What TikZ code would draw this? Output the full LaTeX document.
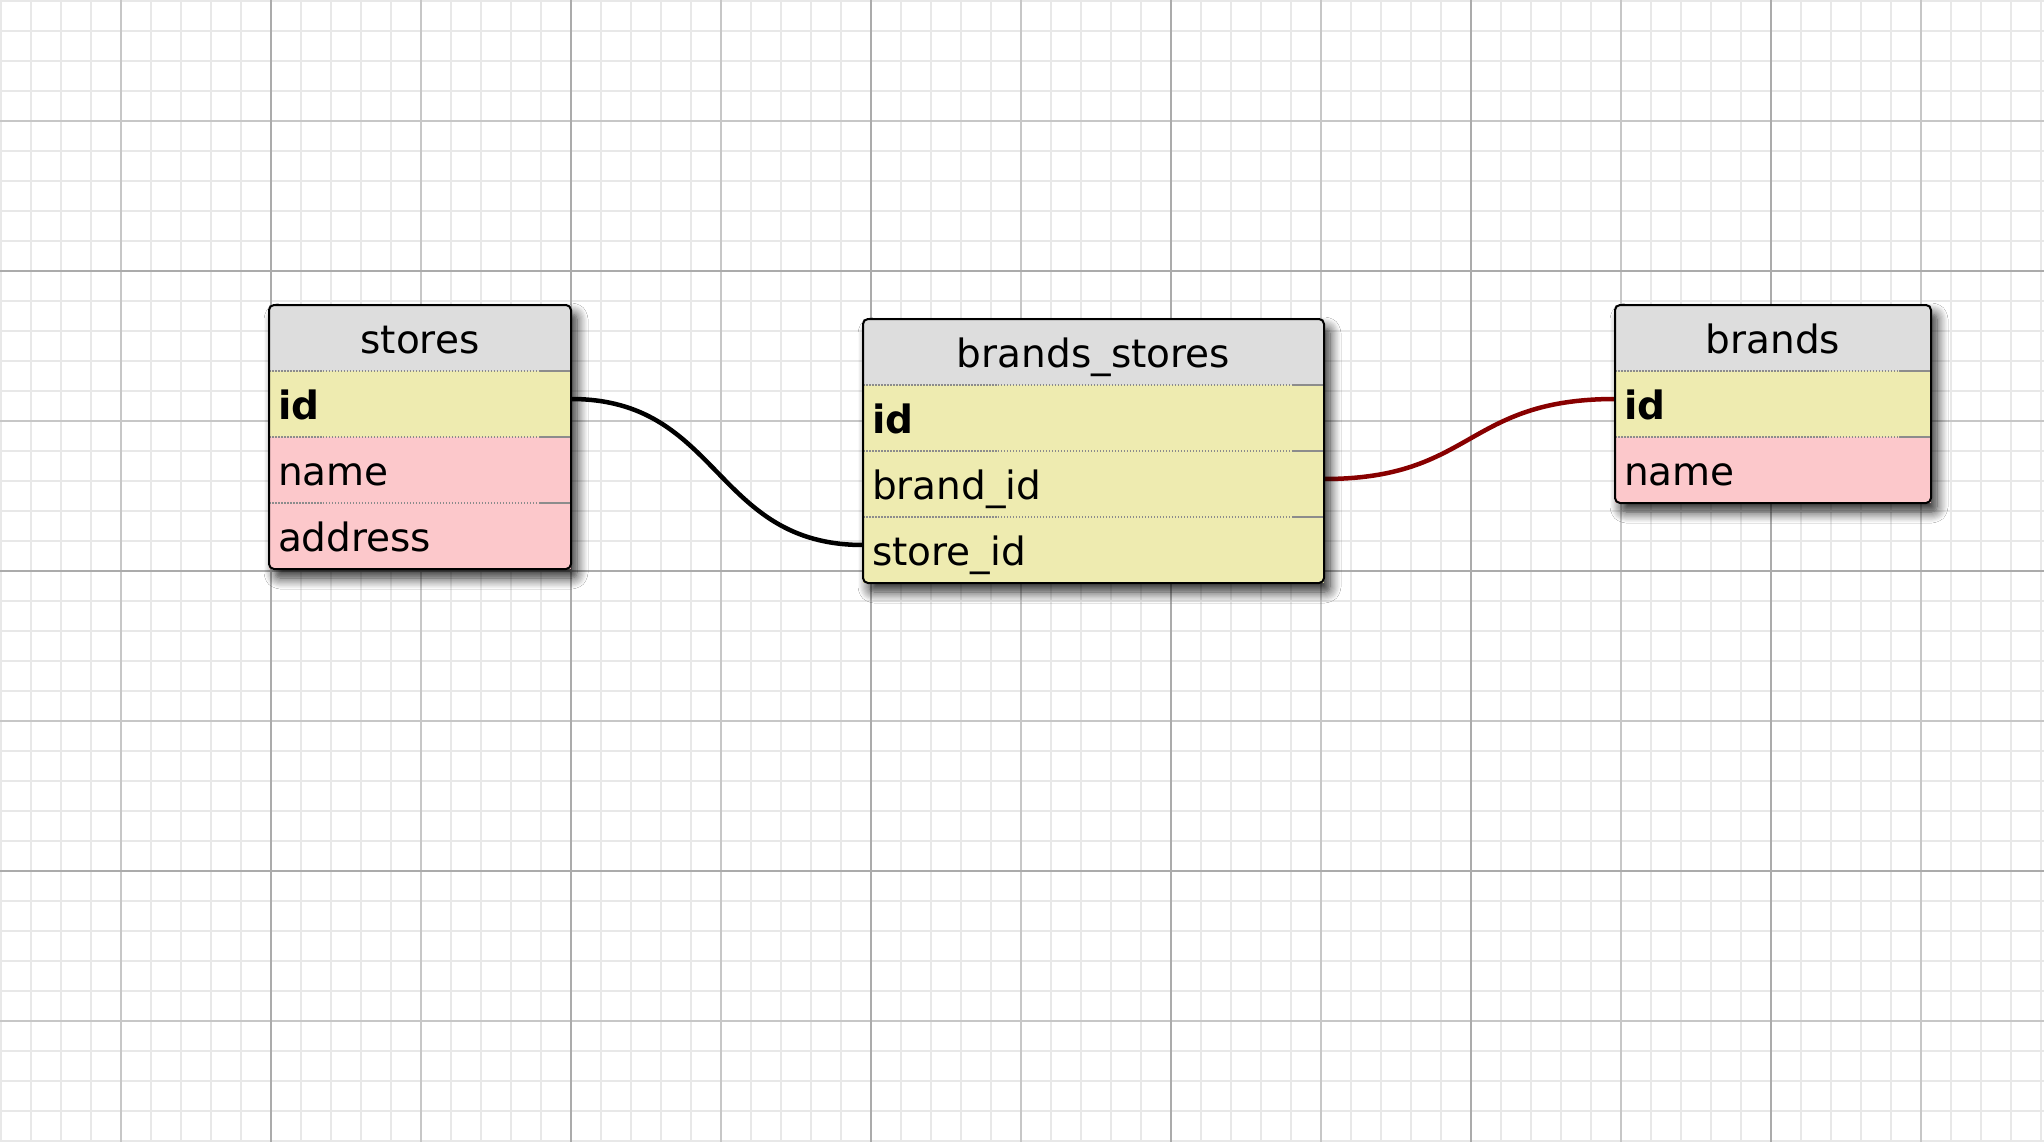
\documentclass[tikz,border=0pt]{standalone}
\usepackage{fontspec}
\setmainfont{DejaVu Sans}
\usetikzlibrary{positioning,fit,backgrounds,shadows.blur}
\definecolor{headgray}{RGB}{221,221,221}
\definecolor{keyyellow}{RGB}{238,235,176}
\definecolor{fieldpink}{RGB}{252,200,203}
\definecolor{linkred}{RGB}{136,0,0}
\definecolor{sepgray}{RGB}{140,140,140}

\begin{document}
\begin{tikzpicture}[x=0.1mm, y=-0.1mm]
    % Definizione stili
    \tikzstyle{minorline}=[draw=black!9, line width=0.15mm]
    \tikzstyle{midline}=[draw=black!22, line width=0.2mm]
    \tikzstyle{majorline}=[draw=black!33, line width=0.22mm]
    \tikzstyle{cell}=[inner xsep=0.9mm, inner ysep=0pt, outer sep=0pt, text height=4.8mm, text depth=1.8mm, font=\fontsize{11.1pt}{13pt}\selectfont]
    \tikzstyle{headcell}=[cell, fill=headgray, align=center]
    \tikzstyle{keycell}=[cell, fill=keyyellow, align=left]
    \tikzstyle{fieldcell}=[cell, fill=fieldpink, align=left]
    \tikzstyle{tableframe}=[fill=headgray, inner sep=0pt, outer sep=0pt, rounded corners=0.5mm, blur shadow={shadow xshift=0.6mm, shadow yshift=-0.9mm, shadow blur radius=1.1mm, shadow blur steps=10, shadow opacity=85}]
    \tikzstyle{tableborder}=[draw=black, line width=0.2mm, rounded corners=0.5mm]
    \tikzstyle{rowsep}=[draw=sepgray, line width=0.15mm, dash pattern=on 0.15mm off 0.15mm]
    \tikzstyle{rowsepend}=[draw=sepgray, line width=0.15mm]
    \tikzstyle{reference}=[line width=0.45mm, black]
    \tikzstyle{brandref}=[line width=0.45mm, linkred]

    \useasboundingbox (0,0) rectangle (2044,1142);

    % Griglia di sfondo
    \begin{scope}[on background layer]
        \fill[white] (0,0) rectangle (2044,1142);
        \foreach \x in {1,31,...,2041} \draw[minorline] (\x,0) -- (\x,1142);
        \foreach \y in {1,31,...,1141} \draw[minorline] (0,\y) -- (2044,\y);
        \foreach \x in {121,421,...,1921} \draw[midline] (\x,0) -- (\x,1142);
        \foreach \y in {121,421,721,1021} \draw[midline] (0,\y) -- (2044,\y);
        \foreach \x in {271,571,...,1771} \draw[majorline] (\x,0) -- (\x,1142);
        \foreach \y in {271,571,871} \draw[majorline] (0,\y) -- (2044,\y);
    \end{scope}

    % Tabella stores
    \node[headcell, text width=28.4mm] (stores-head) at (420,338) {stores};
    \node[keycell, text width=28.4mm, below=0pt of stores-head] (stores-id) {\textbf{id}};
    \node[fieldcell, text width=28.4mm, below=0pt of stores-id] (stores-name) {name};
    \node[fieldcell, text width=28.4mm, below=0pt of stores-name] (stores-address) {address};

    % Tabella brands_stores
    \node[headcell, text width=44.3mm] (bs-head) at (1093.5,352) {brands\_stores};
    \node[keycell, text width=44.3mm, below=0pt of bs-head] (bs-id) {\textbf{id}};
    \node[keycell, text width=44.3mm, below=0pt of bs-id] (bs-brand) {brand\_id};
    \node[keycell, text width=44.3mm, below=0pt of bs-brand] (bs-store) {store\_id};

    % Tabella brands
    \node[headcell, text width=29.8mm] (brands-head) at (1773,338) {brands};
    \node[keycell, text width=29.8mm, below=0pt of brands-head] (brands-id) {\textbf{id}};
    \node[fieldcell, text width=29.8mm, below=0pt of brands-id] (brands-name) {name};

    % Separatori tra le righe
    \foreach \t/\r in {stores/id, stores/name, stores/address, bs/id, bs/brand, bs/store, brands/id, brands/name} {
        \draw[rowsep] (\t-\r.north west) -- (\t-\r.north east);
        \draw[rowsepend] ([xshift=-3.2mm]\t-\r.north east) -- (\t-\r.north east);
    }

    \begin{scope}[on background layer]
        % Collegamenti tra le chiavi
        \draw[reference] ([yshift=0.5mm]stores-id.east) .. controls +(150,0) and +(-150,0) .. ([yshift=0.5mm]bs-store.west);
        \draw[brandref] ([yshift=0.5mm]bs-brand.east) .. controls +(150,0) and +(-150,0) .. ([yshift=0.5mm]brands-id.west);
        % Cornici con ombra
        \node[tableframe, fit=(stores-head)(stores-address)] (stores) {};
        \node[tableframe, fit=(bs-head)(bs-store)] (bs) {};
        \node[tableframe, fit=(brands-head)(brands-name)] (brands) {};
    \end{scope}

    % Bordi delle tabelle
    \draw[tableborder] (stores.north west) rectangle (stores.south east);
    \draw[tableborder] (bs.north west) rectangle (bs.south east);
    \draw[tableborder] (brands.north west) rectangle (brands.south east);
\end{tikzpicture}
\end{document}
